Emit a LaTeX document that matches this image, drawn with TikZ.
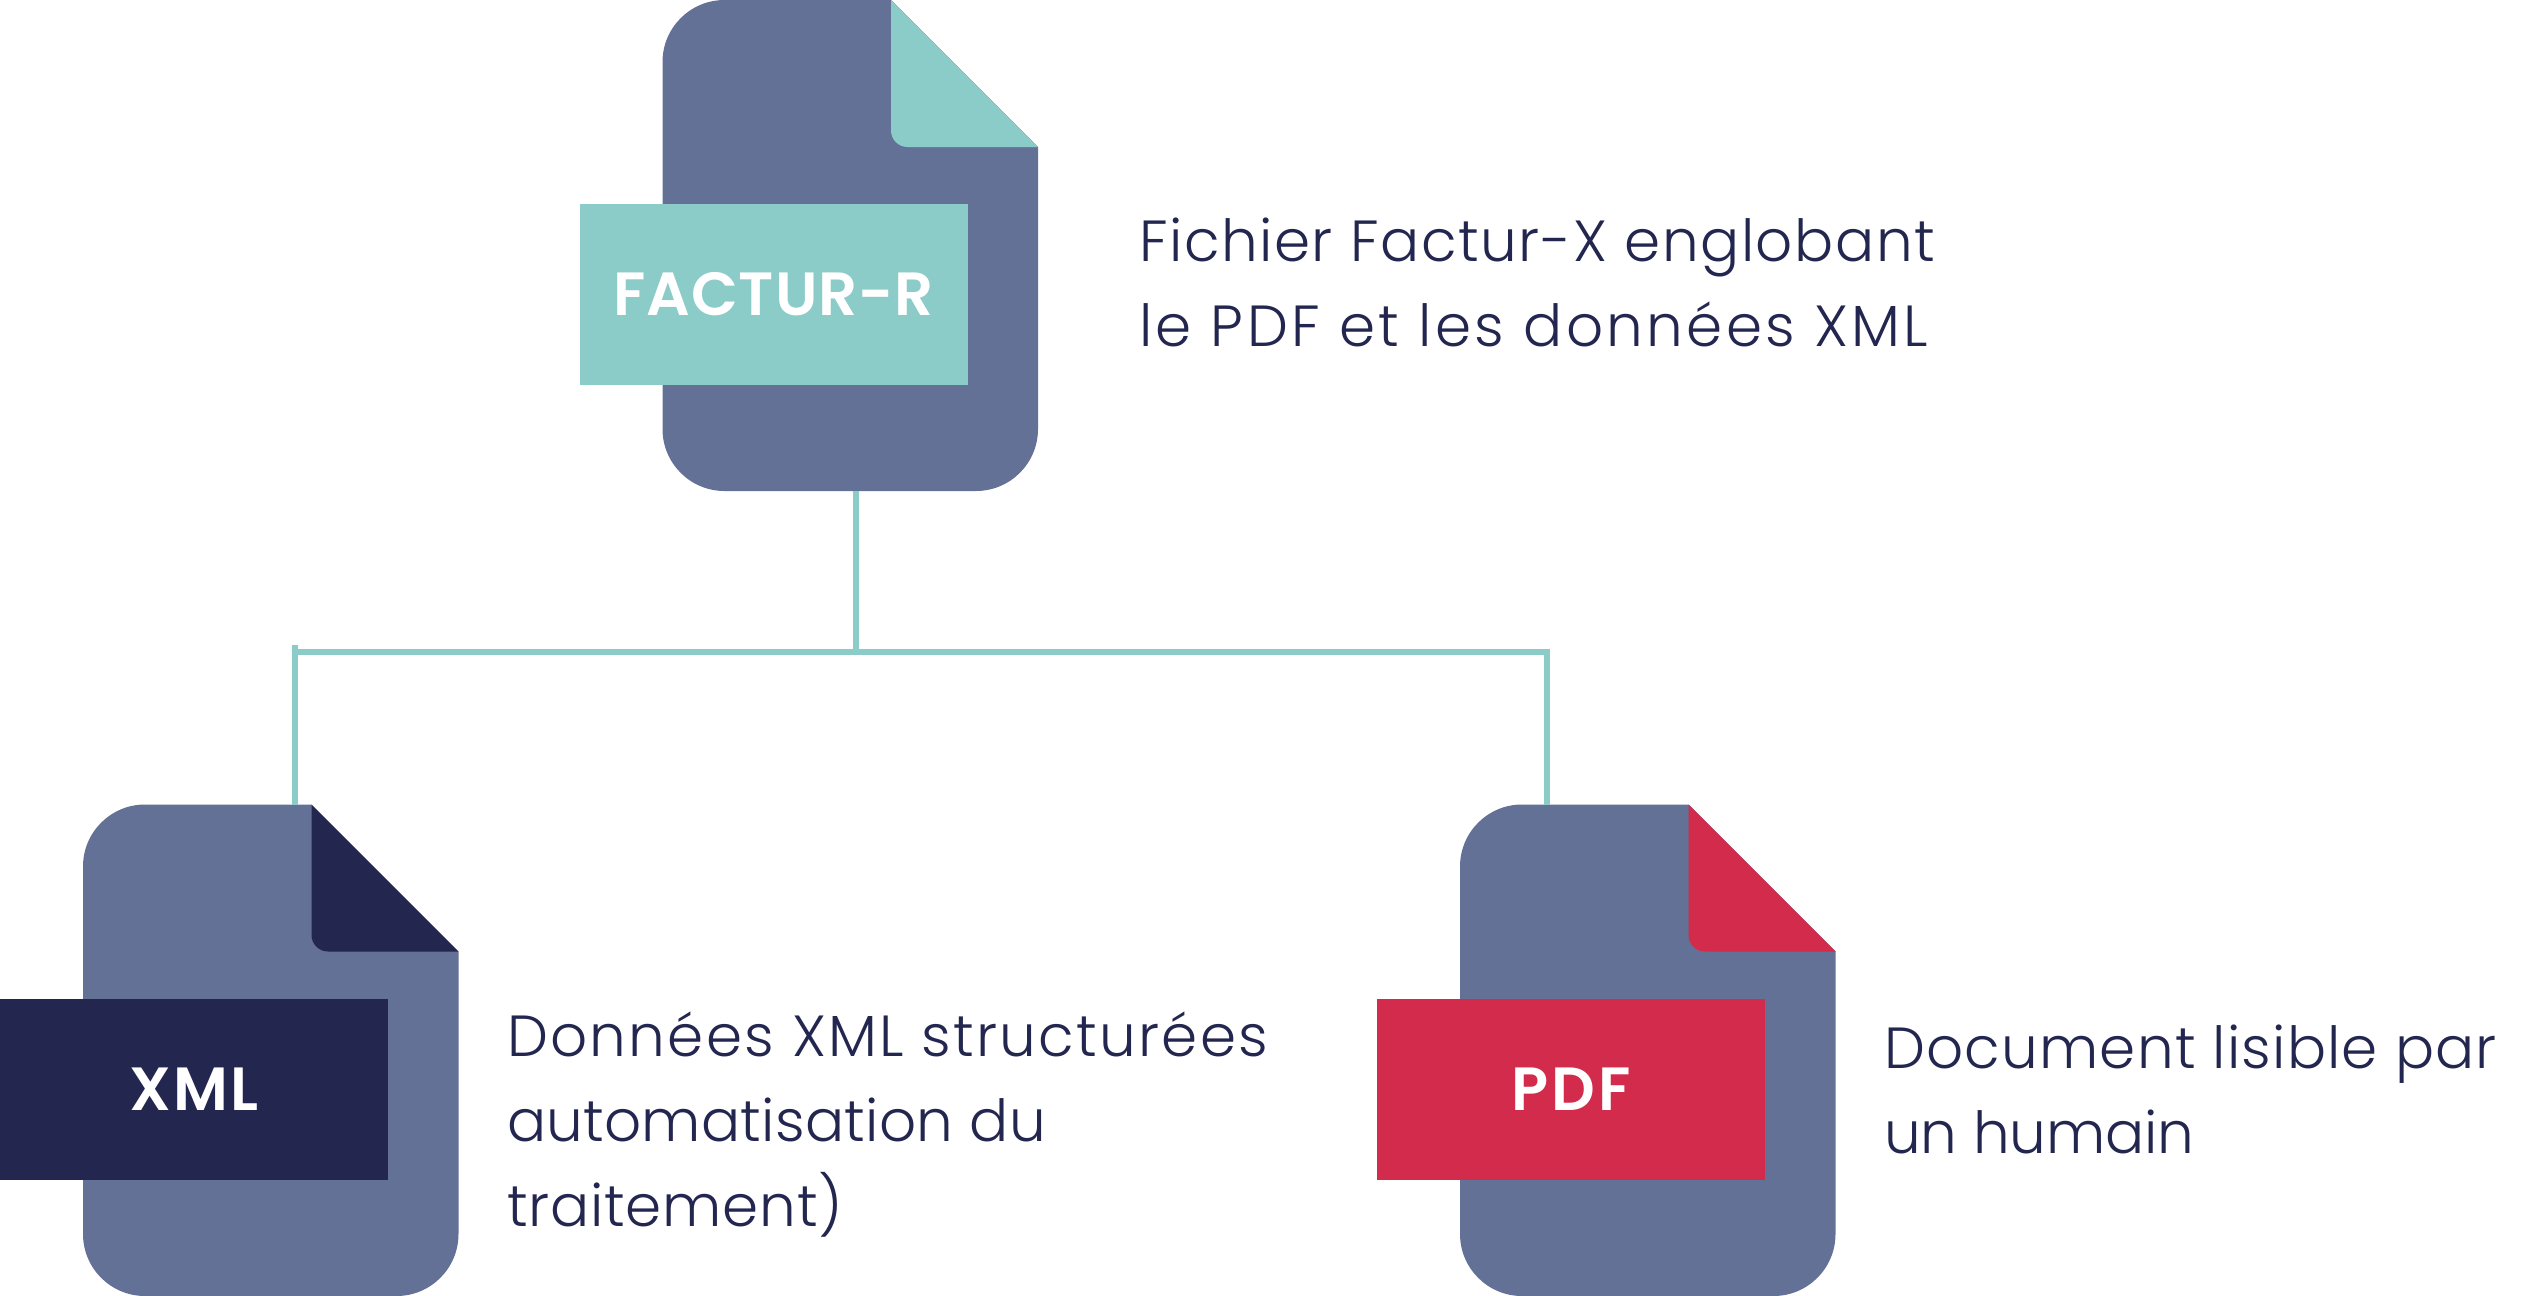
\documentclass[tikz,border=0pt]{standalone}
\usepackage{fontspec}
\setmainfont{Poppins}[UprightFont=* Light,BoldFont=* SemiBold]
\definecolor{slateblue}{HTML}{647196}
\definecolor{teal}{HTML}{8BCBC8}
\definecolor{navy}{HTML}{23264F}
\definecolor{crimson}{HTML}{D32B4B}
\newcommand{\docshape}[5]{%
  % #1 name, #2 left x, #3 top y, #4 accent colour, #5 bottom y
  \fill[slateblue] (#2+62,-#3) -- (#2+228.5,-#3) -- (#2+375.5,-#3-147) -- (#2+375.5,-#5+62)
    arc[start angle=0,end angle=-90,radius=62] -- (#2+62,-#5)
    arc[start angle=270,end angle=180,radius=62] -- (#2,-#3-62)
    arc[start angle=180,end angle=90,radius=62] -- cycle;
  \fill[#4] (#2+228.5,-#3) -- (#2+375.5,-#3-147) -- (#2+245,-#3-147)
    arc[start angle=270,end angle=180,radius=16.5] -- cycle;
  \path (#2,-#3) coordinate (#1nw) (#2+375.5,-#5) coordinate (#1se);
  \node[fit=(#1nw)(#1se),inner sep=0,outer sep=0] (#1) {};
}
\newcommand{\ls}[2]{{\addfontfeature{LetterSpace=#1}#2}}
\tikzset{
  tag/.style={minimum width=388,minimum height=181,inner sep=0,outer sep=0,text=white,text depth=2pt,font=\bfseries\fontsize{61}{61}\selectfont},
  body/.style={anchor=north west,align=left,inner sep=0,outer sep=0,text=navy,font=\fontsize{58}{85}\selectfont},
  link/.style={draw=teal,line width=6},
}
\usetikzlibrary{fit}
\begin{document}
\begin{tikzpicture}[x=1pt,y=1pt]
\useasboundingbox (0,-1296) rectangle (2528,0);
\docshape{topdoc}{662.5}{0}{teal}{491}
\docshape{xmldoc}{83}{804.5}{navy}{1296}
\docshape{pdfdoc}{1460}{804.5}{crimson}{1296}
\node[tag,fill=teal] (factur) at (773.7,-294.5) {\raisebox{-1.5pt}{\ls{1.5}{FACTUR-R}}};
\node[tag,fill=navy] (xmltag) at (194,-1089.5) {\raisebox{-1.5pt}{\ls{3}{XML}}};
\node[tag,fill=crimson] (pdftag) at (1571,-1089.5) {\raisebox{-1.5pt}{\ls{5}{PDF}}};
\node[body] (t1) at (1139,-218) {\ls{2.7}{Fichier Factur-X englobant}\\\ls{5.8}{le PDF et les données XML}};
\node[body] (t2) at (507,-1012) {\ls{3.9}{Données XML structurées}\\\ls{0.5}{automatisation du}\\\ls{1.4}{traitement)}};
\node[body] (t3) at (1884,-1025) {\ls{2.1}{Document lisible par}\\\ls{-0.2}{un humain}};
\coordinate (hub) at (855.7,-651.5);
\coordinate (hl) at (295,-651.5);
\coordinate (hr) at (1547,-651.5);
\coordinate (spur) at (295,-645);
\draw[link] (hub |- topdoc.south) -- (hub);
\draw[link] (spur) -- (spur |- xmldoc.north);
\draw[link] (hl) -- (hr) -- (hr |- pdfdoc.north);
\end{tikzpicture}
\end{document}
